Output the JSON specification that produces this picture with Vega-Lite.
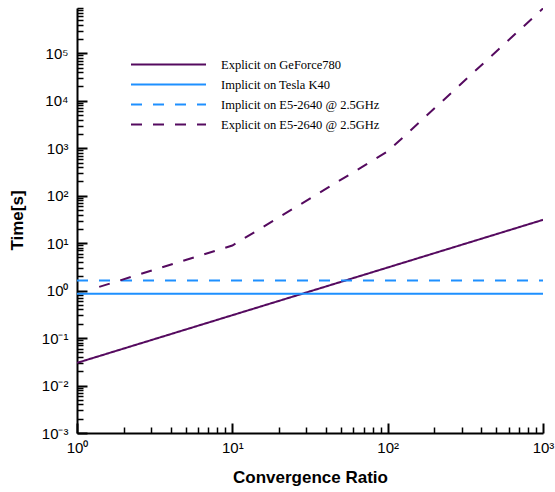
{
  "$schema": "https://vega.github.io/schema/vega-lite/v6.json",
  "width": 466,
  "height": 425,
  "autosize": {"type": "none"},
  "padding": {"left": 77, "top": 8, "right": 12, "bottom": 59},
  "background": "white",
  "config": {"view": {"stroke": null}},
  "data": {
    "values": [
      {"series": "Explicit on GeForce780", "ratio": 1, "time": 0.03},
      {"series": "Explicit on GeForce780", "ratio": 1000, "time": 31},
      {"series": "Implicit on Tesla K40", "ratio": 1, "time": 0.86},
      {"series": "Implicit on Tesla K40", "ratio": 1000, "time": 0.86},
      {"series": "Implicit on E5-2640 @ 2.5GHz", "ratio": 1, "time": 1.64},
      {"series": "Implicit on E5-2640 @ 2.5GHz", "ratio": 1000, "time": 1.64},
      {"series": "Explicit on E5-2640 @ 2.5GHz", "ratio": 1.39, "time": 1.2},
      {"series": "Explicit on E5-2640 @ 2.5GHz", "ratio": 10, "time": 8.9},
      {"series": "Explicit on E5-2640 @ 2.5GHz", "ratio": 100, "time": 855},
      {"series": "Explicit on E5-2640 @ 2.5GHz", "ratio": 1000, "time": 880000}
    ]
  },
  "mark": {"type": "line", "strokeWidth": 2, "clip": true},
  "encoding": {
    "x": {
      "field": "ratio",
      "type": "quantitative",
      "scale": {"type": "log", "domain": [1, 1000], "nice": false},
      "axis": {
        "values": [1,2,3,4,5,6,7,8,9,10,20,30,40,50,60,70,80,90,100,200,300,400,500,600,700,800,900,1000],
        "labelExpr": "abs(log(datum.value)/LN10 - round(log(datum.value)/LN10)) < 0.001 ? '10' + ['⁻³','⁻²','⁻¹','⁰','¹','²','³','⁴','⁵','⁶'][round(log(datum.value)/LN10)+3] : ''",
        "tickSize": {"condition": {"test": "abs(log(datum.value)/LN10 - round(log(datum.value)/LN10)) < 0.001", "value": -10}, "value": -6},
        "tickWidth": {"condition": {"test": "abs(log(datum.value)/LN10 - round(log(datum.value)/LN10)) < 0.001", "value": 2}, "value": 1.5},
        "tickColor": "black",
        "domainColor": "black",
        "domainWidth": 2,
        "grid": false,
        "labelFont": "Liberation Sans",
        "labelFontSize": 15,
        "labelColor": "black",
        "labelPadding": 17,
        "labelFlush": false,
        "labelOverlap": false,
        "title": "Convergence Ratio",
        "titleFont": "Liberation Sans",
        "titleFontSize": 17,
        "titleFontWeight": "bold",
        "titleColor": "black",
        "titleBaseline": "alphabetic",
        "titleX": 233,
        "titleY": 49
      }
    },
    "y": {
      "field": "time",
      "type": "quantitative",
      "scale": {"type": "log", "domain": [0.001, 900000], "nice": false},
      "axis": {
        "values": [0.001,0.002,0.003,0.004,0.005,0.006,0.007,0.008,0.009,0.01,0.02,0.03,0.04,0.05,0.06,0.07,0.08,0.09,0.1,0.2,0.3,0.4,0.5,0.6,0.7,0.8,0.9,1,2,3,4,5,6,7,8,9,10,20,30,40,50,60,70,80,90,100,200,300,400,500,600,700,800,900,1000,2000,3000,4000,5000,6000,7000,8000,9000,10000,20000,30000,40000,50000,60000,70000,80000,90000,100000,200000,300000,400000,500000,600000,700000,800000,900000],
        "labelExpr": "abs(log(datum.value)/LN10 - round(log(datum.value)/LN10)) < 0.001 ? '10' + ['⁻³','⁻²','⁻¹','⁰','¹','²','³','⁴','⁵','⁶'][round(log(datum.value)/LN10)+3] : ''",
        "tickSize": {"condition": {"test": "abs(log(datum.value)/LN10 - round(log(datum.value)/LN10)) < 0.001", "value": -10}, "value": -6},
        "tickWidth": {"condition": {"test": "abs(log(datum.value)/LN10 - round(log(datum.value)/LN10)) < 0.001", "value": 2}, "value": 1.5},
        "tickColor": "black",
        "domainColor": "black",
        "domainWidth": 2,
        "grid": false,
        "labelFont": "Liberation Sans",
        "labelFontSize": 15,
        "labelColor": "black",
        "labelPadding": 19,
        "labelFlush": false,
        "labelOverlap": false,
        "title": "Time[s]",
        "titleFont": "Liberation Sans",
        "titleFontSize": 17,
        "titleFontWeight": "bold",
        "titleColor": "black",
        "titleBaseline": "alphabetic",
        "titleAngle": -90,
        "titleX": -55,
        "titleY": 212
      }
    },
    "color": {
      "field": "series",
      "type": "nominal",
      "scale": {
        "domain": ["Explicit on GeForce780", "Implicit on Tesla K40", "Implicit on E5-2640 @ 2.5GHz", "Explicit on E5-2640 @ 2.5GHz"],
        "range": ["#550a5f", "#1e90ff", "#1e90ff", "#550a5f"]
      },
      "legend": {
        "orient": "none",
        "legendX": 83,
        "legendY": 48,
        "title": null,
        "symbolType": "M-5,0H5",
        "symbolSize": 225,
        "symbolStrokeWidth": 2,
        "labelFont": "Liberation Serif",
        "labelFontSize": 12.5,
        "labelColor": "black",
        "labelOffset": 44,
        "rowPadding": 5,
        "padding": 0
      }
    },
    "strokeDash": {
      "field": "series",
      "type": "nominal",
      "scale": {
        "domain": ["Explicit on GeForce780", "Implicit on Tesla K40", "Implicit on E5-2640 @ 2.5GHz", "Explicit on E5-2640 @ 2.5GHz"],
        "range": [[1, 0], [1, 0], [11, 11], [11, 11]]
      },
      "legend": {
        "orient": "none",
        "legendX": 83,
        "legendY": 48,
        "title": null,
        "symbolType": "M-5,0H5",
        "symbolSize": 225,
        "symbolStrokeWidth": 2,
        "labelFont": "Liberation Serif",
        "labelFontSize": 12.5,
        "labelColor": "black",
        "labelOffset": 44,
        "rowPadding": 5,
        "padding": 0
      }
    }
  }
}
